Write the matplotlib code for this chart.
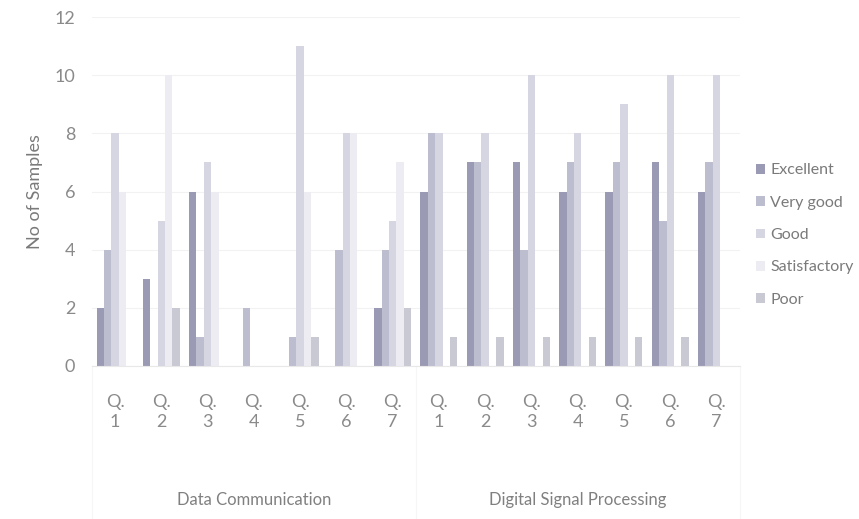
import numpy as np
import matplotlib
matplotlib.use("Agg")
import matplotlib.pyplot as plt

plt.rcParams['font.family'] = ['Lato', 'DejaVu Sans']

# data
questions = ["Q.\n1", "Q.\n2", "Q.\n3", "Q.\n4", "Q.\n5", "Q.\n6", "Q.\n7"] * 2
subjects = ["Data Communication", "Digital Signal Processing"]
series = ["Excellent", "Very good", "Good", "Satisfactory", "Poor"]

excellent = [2, 3, 6, 0, 0, 0, 2, 6, 7, 7, 6, 6, 7, 6]
very_good = [4, 0, 1, 2, 1, 4, 4, 8, 7, 4, 7, 7, 5, 7]
good = [8, 5, 7, 0, 11, 8, 5, 8, 8, 10, 8, 9, 10, 10]
satisfactory = [6, 10, 6, 0, 6, 8, 7, 0, 0, 0, 0, 0, 0, 0]
poor = [0, 2, 0, 0, 1, 0, 2, 1, 1, 1, 1, 1, 1, 0]

values = [excellent, very_good, good, satisfactory, poor]
colors = ["#9a9ab4", "#bdbdd0", "#d6d6e2", "#ececf2", "#c9c9d3"]
text_col = "#8a8a8a"

fig = plt.figure(figsize=(8.59, 5.19), dpi=100)
ax = fig.add_axes([0.107, 0.295, 0.754, 0.672])

x = np.arange(len(questions))
w = 0.16
for i, (name, vals) in enumerate(zip(series, values)):
    ax.bar(x + (i - 2) * w, vals, width=w, color=colors[i], label=name,
           edgecolor="none", zorder=2)

ax.set_xlim(-0.5, len(questions) - 0.5)
ax.set_ylim(0, 12)
ax.set_yticks(range(0, 13, 2))
ax.yaxis.grid(True, color="#f2f2f2", linewidth=0.8, zorder=0)
ax.tick_params(axis="y", length=0, labelsize=13, labelcolor=text_col, pad=12)
ax.set_ylabel("No of Samples", fontsize=13, color="#7a7a7a", labelpad=8)

ax.set_xticks(x)
ax.set_xticklabels(questions, fontsize=13, color=text_col, linespacing=1.3)
ax.tick_params(axis="x", length=0, pad=20)

for s in ["top", "right", "left"]:
    ax.spines[s].set_visible(False)
ax.spines["bottom"].set_color("#e8e8e8")

# group labels of the two-level category axis
for j, name in enumerate(subjects):
    ax.text(j * 7 + 3, -0.385, name, transform=ax.get_xaxis_transform(),
            ha="center", va="center", fontsize=12, color="#808080")

# faint separators below the axis
for b in [-0.5, 6.5, 13.5]:
    ax.plot([b, b], [0, -0.44], transform=ax.get_xaxis_transform(),
            color="#f6f6f6", linewidth=0.8, clip_on=False)

leg = ax.legend(loc="center left", bbox_to_anchor=(1.025, 0.375), frameon=False,
                fontsize=11.5, handlelength=0.55, handleheight=0.55,
                labelspacing=1.15, handletextpad=0.35, borderpad=0,
                borderaxespad=0)
for t in leg.get_texts():
    t.set_color("#7a7a7a")

fig.savefig("out.png", dpi=100)
